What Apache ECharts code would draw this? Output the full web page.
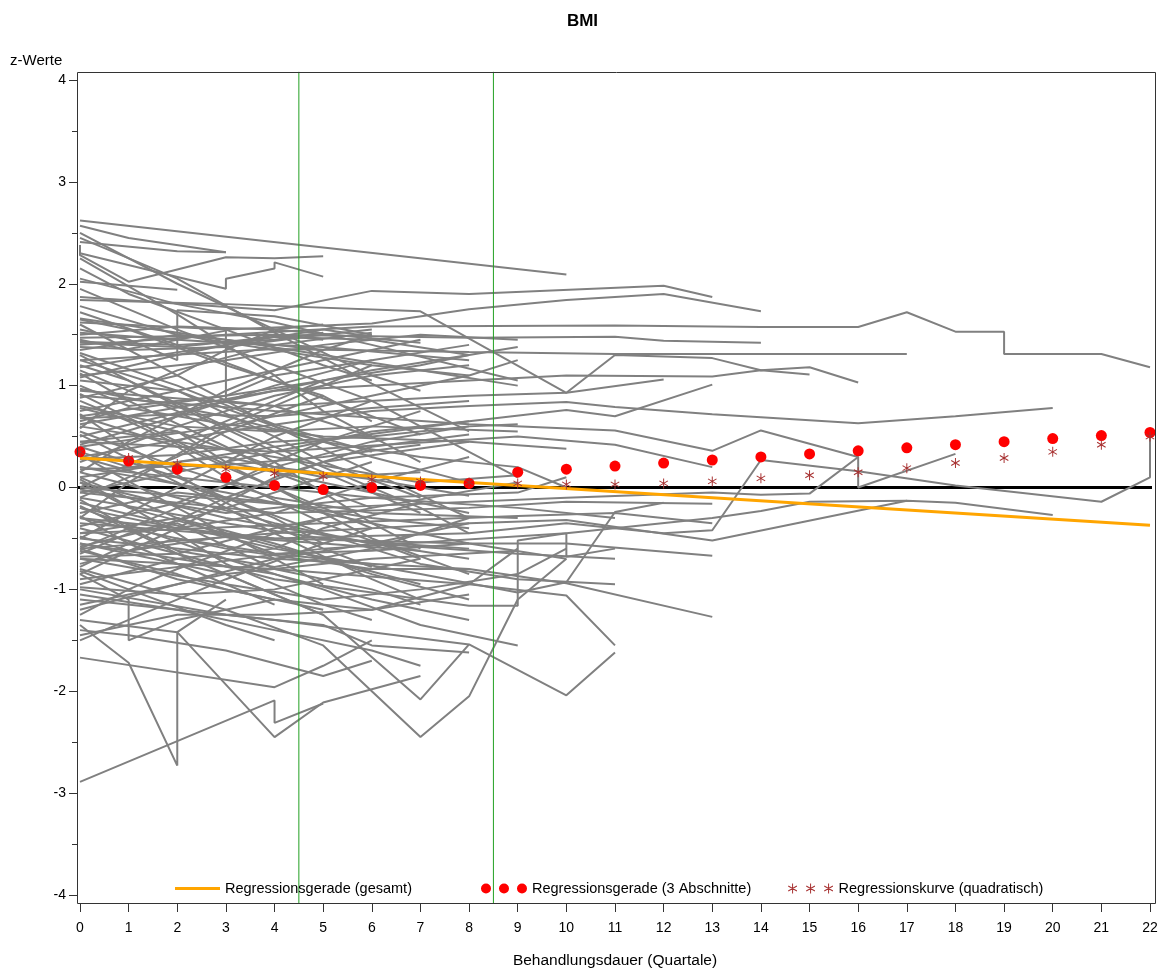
<!DOCTYPE html>
<html>
<head>
<meta charset="utf-8">
<title>BMI</title>
<script src="https://cdn.jsdelivr.net/npm/echarts@6/dist/echarts.min.js"></script>
<style>
  html, body { margin: 0; padding: 0; background: #ffffff; }
  #chart { width: 1165px; height: 974px; }
</style>
</head>
<body>
<div id="chart"></div>
<script>
// ---- data -------------------------------------------------------------
// treatment duration in quarters
const quarters = [0,1,2,3,4,5,6,7,8,9,10,11,12,13,14,15,16,17,18,19,20,21,22];
const yTickValues = [-4,-3,-2,-1,0,1,2,3,4];

// overall regression line (start / end)
const regOverall = [[0, 0.29], [22, -0.37]];
// piecewise regression, 3 sections (one value per quarter)
const reg3Sections = [0.35,0.26,0.18,0.10,0.02,-0.02,0.00,0.02,0.04,0.15,0.18,0.21,0.24,0.27,0.30,0.33,0.36,0.39,0.42,0.45,0.48,0.51,0.54];
// quadratic regression curve (one value per quarter)
const regQuadratic = [0.35,0.29,0.23,0.18,0.14,0.11,0.08,0.06,0.05,0.04,0.03,0.03,0.04,0.06,0.09,0.12,0.15,0.19,0.24,0.29,0.35,0.42,0.50];
// section boundaries
const sectionBreaks = [4.5, 8.5];

// individual patient courses [quarter, z-score]
const longPaths = [
  [[0,2.62],[10,2.09]],
  [[0,1.87],[4,1.74],[6,1.93],[8,1.90],[12,1.98],[13,1.87]],
  [[0,1.62],[3,1.55],[6,1.61],[8,1.75],[10,1.84],[12,1.90],[14,1.73]],
  [[0,1.40],[3,1.50],[6,1.58],[11,1.59],[14,1.575],[16,1.575],[17,1.72],[18,1.53],[19,1.53],[19,1.31],[21,1.31],[22,1.18]],
  [[0,1.47],[4,1.50],[8,1.47],[11,1.48],[12,1.44],[14,1.42]],
  [[0,1.25],[4,1.36],[8,1.33],[11,1.31],[17,1.31]],
  [[0,1.84],[3,1.80],[7,1.73],[10,0.93],[11,1.30],[13,1.27],[14,1.15],[15,1.18],[16,1.03]],
  [[0,0.95],[4,0.80],[8,0.90],[10,0.93],[12,1.06]],
  [[0,0.62],[4,0.95],[8,1.05],[10,1.10],[13,1.09],[14,1.15],[15,1.11]],
  [[0,0.30],[3,0.55],[6,0.75],[8,0.80],[10,0.84],[11,0.79],[13,0.72],[16,0.63],[18,0.70],[20,0.78]],
  [[0,0.10],[4,0.40],[8,0.65],[10,0.76],[11,0.70],[13,1.01]],
  [[0,0.90],[4,0.75],[8,0.62],[11,0.56],[13,0.36],[14,0.56],[16,0.30],[16,0.00],[18,0.33]],
  [[0,-0.30],[4,-0.50],[8,-0.45],[10,-0.35],[12,-0.45],[13,-0.42],[14,0.27],[16,0.16],[18,0.02],[21,-0.14],[22,0.10],[22,0.54]],
  [[0,0.00],[5,-0.20],[10,-0.10],[13,-0.05],[14,-0.07],[15,-0.06],[16,0.30]],
  [[0,-0.35],[4,-0.50],[8,-0.55],[10,-0.55],[13,-0.67]],
  [[0,-0.50],[4,-0.70],[8,-0.80],[10,-0.94],[13,-1.27]],
  [[0,-0.60],[4,-0.45],[8,-0.35],[10,-0.32],[13,-0.52],[17,-0.13],[18,-0.15],[20,-0.27]],
  [[0,-0.90],[5,-0.60],[10,-0.45],[13,-0.30],[14,-0.23],[15,-0.14],[17,-0.13]],
  [[0,-0.70],[4,-0.80],[8,-0.95],[10,-1.06],[11,-1.55]],
  [[0,-1.10],[4,-1.30],[8,-1.54],[10,-2.04],[11,-1.62]],
  [[0,-0.15],[4,-0.60],[7,-0.85],[9,-1.03],[10,-0.93],[11,-0.24],[12,-0.15]],
  [[0,0.45],[4,0.35],[9,0.50],[11,0.42],[13,0.20]],
  [[0,-0.05],[4,-0.25],[8,-0.20],[10,-0.14],[13,-0.16]],
  [[0,-0.45],[5,-0.35],[9,-0.28],[11,-0.25],[13,-0.35]],
  [[0,0.20],[3,0.05],[6,-0.10],[9,-0.05],[10,0.10]],
  [[0,0.30],[3,-0.10],[5,-0.45],[7,-0.75],[9,-0.90],[11,-0.95]],
  [[0,0.05],[3,-0.30],[6,-0.55],[9,-0.65],[11,-0.70]]
];

const upperPaths = [
  [[0,2.57],[1,2.45],[3,2.31]],
  [[0,2.45],[2,2.05],[4,1.52],[6,1.02],[8,0.55]],
  [[0,2.38],[0,2.28],[1,2.02],[3,2.26],[4,2.25],[5,2.27]],
  [[0,2.41],[2,2.32],[3,2.31]],
  [[0,2.30],[3,1.95],[3,2.05],[4,2.15],[4,2.21],[5,2.07]],
  [[0,2.02],[2,1.94]],
  [[0,2.05],[2,1.80],[4,1.62],[6,1.40],[9,1.05]],
  [[0,1.72],[2,1.40],[4,1.05],[6,0.70],[7,0.52]],
  [[0,1.55],[1,1.45],[2,1.25],[2,1.74],[4,1.68],[6,1.50]],
  [[0,1.42],[2,1.38],[4,1.48],[6,1.45],[8,1.30]],
  [[0,1.38],[1,1.36],[3,1.54],[3,0.85],[4,0.80],[6,0.50]],
  [[0,1.95],[2,1.55],[4,1.20],[6,0.85],[8,0.35],[9,0.10]],
  [[0,2.25],[2,1.70],[4,1.10],[5,0.75],[7,0.25]],
  [[0,1.32],[2,1.00],[4,0.62],[6,0.35]],
  [[0,1.18],[3,1.40],[5,1.55],[6,1.48]],
  [[0,1.08],[2,1.30],[4,1.50],[5,1.45]],
  [[0,1.43],[2,1.40],[4,1.45],[5,1.52]],
  [[0,1.45],[1,1.35],[3,1.38],[5,1.50],[6,1.55]],
  [[0,1.50],[2,1.58],[4,1.55],[7,1.42]],
  [[0,1.65],[1,1.55],[3,1.20],[5,0.90],[6,0.65]],
  [[0,1.52],[2,1.45],[3,1.42],[5,1.38],[8,1.25]],
  [[0,1.35],[2,1.50],[4,1.40],[5,1.35]],
  [[0,2.15],[1,1.90],[3,1.55],[5,1.20],[6,1.05]],
  [[0,1.78],[2,1.50],[4,1.35],[6,1.20],[8,1.10]],
  [[0,2.50],[2,2.00],[4,1.55],[6,1.10],[7,0.95]],
  [[0,1.60],[2,1.10],[4,0.60],[6,0.15],[8,-0.30]],
  [[0,1.10],[3,1.25],[5,1.40],[7,1.50],[9,1.45]],
  [[0,1.66],[3,1.45],[5,1.30],[7,1.15],[9,1.00]]
];

const middlePaths = [
  [[0,1.05],[2,0.95],[4,0.60],[6,0.30],[8,0.05]],
  [[0,0.85],[1,0.65],[3,0.20],[5,-0.20],[6,-0.40]],
  [[0,0.75],[2,0.95],[4,1.15],[6,1.35],[7,1.45]],
  [[0,0.70],[2,0.40],[3,0.10],[5,-0.35],[7,-0.70]],
  [[0,0.65],[1,0.78],[3,0.62],[5,0.50],[8,0.45],[10,0.38]],
  [[0,0.55],[2,0.20],[4,-0.10],[6,-0.25],[9,-0.30]],
  [[0,0.50],[3,0.85],[6,1.15],[8,1.30]],
  [[0,0.45],[2,0.55],[4,0.20],[6,0.08],[8,-0.08]],
  [[0,0.40],[2,0.10],[4,-0.30],[5,-0.55]],
  [[0,0.97],[3,0.70],[5,0.45],[7,0.30],[9,0.20],[10,0.00]],
  [[0,0.80],[2,0.60],[4,0.55],[6,0.60],[9,0.55]],
  [[0,0.25],[2,0.60],[4,0.90],[6,1.10],[8,1.20]],
  [[0,0.35],[1,0.20],[3,0.30],[5,0.10],[7,0.15]],
  [[0,1.12],[1,0.85],[3,0.40],[4,0.15],[6,-0.20]],
  [[0,0.60],[4,0.30],[7,0.05],[9,0.12]],
  [[0,0.00],[2,0.45],[4,0.85],[5,1.05]],
  [[0,-0.10],[2,0.30],[3,0.55],[5,0.90]],
  [[0,0.78],[2,0.55],[3,0.25],[5,0.05],[8,-0.25]],
  [[0,-0.50],[2,0.00],[4,0.50],[6,0.85]],
  [[0,-0.85],[2,-0.40],[4,0.10],[6,0.40],[8,0.52]],
  [[0,0.15],[2,-0.10],[4,-0.35],[6,-0.55],[8,-0.70]],
  [[0,0.05],[1,-0.20],[3,-0.45],[5,-0.70],[7,-0.95]],
  [[0,-0.05],[2,0.15],[4,0.35],[6,0.55],[8,0.65]],
  [[0,-0.10],[3,-0.35],[5,-0.50],[8,-0.60]],
  [[0,-0.20],[2,-0.40],[4,-0.25],[6,0.05],[8,0.30]],
  [[0,-0.25],[2,-0.05],[4,-0.15],[6,-0.30],[8,-0.40]],
  [[0,-0.40],[4,-0.90],[8,-1.16],[9,-1.16],[9,-0.52],[10,-0.45],[10,-0.68],[11,-0.60]],
  [[0,-0.45],[2,-0.30],[4,-0.55],[6,-0.85],[8,-1.10]],
  [[0,-0.55],[2,-0.70],[4,-0.60],[5,-0.40],[7,-0.15]],
  [[0,-0.62],[2,-0.85],[3,-1.00],[5,-1.20]],
  [[0,-0.65],[1,-0.45],[3,-0.20],[5,0.10],[6,0.25]],
  [[0,-0.75],[2,-0.50],[4,-0.65],[6,-0.62],[8,-0.55]],
  [[0,0.10],[2,-0.30],[4,-0.65],[6,-0.75]],
  [[0,-0.02],[3,-0.25],[6,-0.10],[9,-0.20],[11,-0.30]],
  [[0,0.20],[3,-0.05],[6,-0.35],[8,-0.55],[10,-0.70]],
  [[0,1.00],[1,0.80],[3,0.90],[4,1.10],[6,1.25]],
  [[0,0.88],[2,1.10],[3,1.35],[4,1.55],[5,1.60]],
  [[0,0.58],[1,0.95],[2,1.15],[4,1.40],[6,1.52]],
  [[0,0.42],[2,0.70],[4,1.00],[6,1.25],[8,1.40]],
  [[0,0.15],[1,0.45],[3,0.95],[5,1.35],[6,1.50]],
  [[0,-0.30],[1,0.05],[3,0.60],[5,1.00],[6,1.20]],
  [[0,-0.60],[2,-0.20],[4,0.25],[5,0.45],[7,0.75]],
  [[0,-0.78],[1,-0.55],[3,-0.10],[5,0.25],[8,0.45]],
  [[0,-0.68],[2,-0.65],[4,-0.40],[6,-0.20],[9,0.05]],
  [[0,1.30],[2,0.80],[4,0.35],[6,-0.05],[7,-0.25]],
  [[0,1.20],[1,1.05],[3,0.60],[5,0.20],[7,-0.20],[8,-0.45]],
  [[0,1.15],[2,0.75],[4,0.25],[6,-0.35],[7,-0.60]],
  [[0,0.92],[2,0.45],[4,0.00],[6,-0.50],[8,-0.85]],
  [[0,0.72],[1,0.40],[3,-0.15],[5,-0.60],[6,-0.78]],
  [[0,0.52],[2,0.05],[4,-0.45],[6,-0.90],[7,-1.10]],
  [[0,0.32],[2,-0.20],[4,-0.70],[5,-0.95]],
  [[0,0.08],[2,-0.45],[3,-0.75],[5,-1.15],[6,-1.30]],
  [[0,-0.18],[2,-0.65],[4,-1.05],[5,-1.25]],
  [[0,-0.28],[1,-0.55],[3,-0.95],[4,-1.15]],
  [[0,-0.38],[2,-0.15],[4,0.20],[6,0.45],[8,0.60],[9,0.62]],
  [[0,-0.48],[1,-0.62],[3,-0.48],[5,-0.55],[7,-0.62]],
  [[0,-0.58],[2,-0.35],[4,-0.80],[6,-1.00],[7,-1.15]],
  [[0,0.28],[2,0.32],[4,0.45],[6,0.50],[8,0.60]],
  [[0,0.18],[3,0.22],[5,0.30],[7,0.42]],
  [[0,0.68],[2,0.72],[4,0.70],[6,0.78],[8,0.85]],
  [[0,1.25],[2,0.95],[4,0.50],[5,0.25],[7,-0.10]],
  [[0,-0.12],[1,-0.40],[2,-0.62],[4,-0.78],[6,-0.60],[8,-0.30]],
  [[0,0.70],[3,0.90],[5,1.05],[7,1.20],[8,1.30],[9,1.38]],
  [[0,0.40],[3,0.60],[6,0.90],[8,1.10],[9,1.25]],
  [[0,-0.30],[3,-0.60],[6,-0.80],[8,-0.80]]
];

const lowerPaths = [
  [[0,-2.89],[4,-2.09],[4,-2.31],[5,-2.12]],
  [[0,-1.67],[4,-1.96],[5,-1.75],[6,-1.50]],
  [[0,-1.35],[1,-1.72],[2,-2.73],[2,-1.42],[3,-1.10]],
  [[0,-1.30],[2,-1.42],[4,-2.45],[5,-2.11],[7,-1.85]],
  [[0,-0.80],[3,-1.20],[5,-1.55],[7,-2.45],[8,-2.05],[9,-1.10],[10,-0.70]],
  [[0,-1.50],[1,-1.30],[3,-0.90],[5,-0.55],[6,-0.40]],
  [[0,-1.40],[1,-1.45],[3,-1.60],[5,-1.85],[6,-1.70]],
  [[0,-1.25],[1,-1.00],[2,-0.80],[4,-0.45],[5,-0.30]],
  [[0,-0.85],[1,-1.10],[1,-1.50],[2,-1.30],[4,-1.10]],
  [[0,-1.05],[2,-1.20],[4,-1.40],[6,-1.60],[7,-1.75]],
  [[0,-0.95],[2,-0.70],[4,-0.85],[6,-1.10],[8,-1.30]],
  [[0,-1.15],[3,-0.85],[6,-0.70],[9,-0.62]],
  [[0,-0.82],[1,-1.00],[3,-1.35],[4,-1.50]],
  [[0,-1.20],[2,-0.95],[4,-0.70],[6,-0.55],[8,-0.35]],
  [[0,-0.98],[2,-1.05],[4,-1.00],[6,-0.80],[7,-0.70]],
  [[0,-1.45],[2,-1.25],[4,-1.25],[6,-1.20],[8,-1.05]],
  [[0,-0.20],[3,-0.70],[5,-1.00],[7,-1.35],[9,-1.55]],
  [[0,-0.70],[3,-0.95],[5,-1.10],[7,-1.00],[9,-0.85],[10,-0.60]],
  [[0,-1.00],[3,-1.25],[5,-1.35],[6,-1.55],[8,-1.62]],
  [[0,-0.55],[3,-0.85],[5,-1.25],[7,-2.08],[8,-1.54]],
  [[0,-0.60],[2,-0.90],[4,-1.10],[6,-1.20],[8,-0.95],[9,-0.60]]
];

// ---- styling ------------------------------------------------------------
const FONT = '"Liberation Sans", Arial, sans-serif';
const GRAY = '#808080';
const AXIS = '#333333';
const ASTERISK_COLOR = '#A83232';

// six-armed asterisk made of three thin bars
const asteriskPath = 'path://M-0.5,-5L0.5,-5L0.5,5L-0.5,5Z' +
  'M4.08,2.93L-4.58,-2.07L-4.08,-2.93L4.58,2.07Z' +
  'M4.08,-2.93L4.58,-2.07L-4.08,2.93L-4.58,2.07Z';

function dotAt(cx) {
  return 'M' + (cx - 5) + ',5a5,5 0 1,0 10,0a5,5 0 1,0 -10,0Z';
}
function starAt(cx) {
  return 'M' + (cx - 0.5) + ',0L' + (cx + 0.5) + ',0L' + (cx + 0.5) + ',10L' + (cx - 0.5) + ',10Z' +
    'M' + (cx + 4.08) + ',7.93L' + (cx - 4.58) + ',2.93L' + (cx - 4.08) + ',2.07L' + (cx + 4.58) + ',7.07Z' +
    'M' + (cx + 4.08) + ',2.07L' + (cx + 4.58) + ',2.93L' + (cx - 4.08) + ',7.93L' + (cx - 4.58) + ',7.07Z';
}
const threeDotsIcon = 'path://' + dotAt(5) + dotAt(23) + dotAt(41);
const threeStarsIcon = 'path://' + starAt(5) + starAt(23) + starAt(41);

const NAME_OVERALL = 'Regressionsgerade (gesamt)';
const NAME_SECTIONS = 'Regressionsgerade (3 Abschnitte)';
const NAME_QUAD = 'Regressionskurve (quadratisch)';

// axis padding (the frame sits slightly outside the data range)
const xFrame = [-0.06, 22.12];
const yFrame = [-4.08, 4.08];

const chart = echarts.init(document.getElementById('chart'), null, { renderer: 'canvas' });

const allPaths = [].concat(longPaths, upperPaths, middlePaths, lowerPaths);

const series = [];

// zero reference line
series.push({
  type: 'line', name: 'zero', silent: true, clip: false, symbol: 'none', z: 1,
  data: [[xFrame[0], 0], [xFrame[1], 0]],
  lineStyle: { color: '#000000', width: 3 }
});

// patient courses
allPaths.forEach(function (p, i) {
  series.push({
    type: 'line', name: 'verlauf' + i, silent: true, symbol: 'none', z: 2,
    data: p,
    lineStyle: { color: GRAY, width: 2 }
  });
});

// section boundaries
sectionBreaks.forEach(function (b, i) {
  series.push({
    type: 'line', name: 'grenze' + i, silent: true, clip: false, symbol: 'none', z: 3,
    data: [[b, yFrame[0]], [b, yFrame[1]]],
    lineStyle: { color: '#22a022', width: 1 }
  });
});

series.push({
  type: 'line', name: NAME_OVERALL, silent: true, symbol: 'none', z: 4,
  color: '#FFA500',
  data: regOverall,
  lineStyle: { color: '#FFA500', width: 3 }
});

series.push({
  type: 'scatter', name: NAME_SECTIONS, silent: true, clip: false, z: 5,
  color: '#FF0000',
  symbol: 'circle', symbolSize: 11,
  itemStyle: { opacity: 1 },
  data: quarters.map(function (q, i) { return [q, reg3Sections[i]]; })
});

series.push({
  type: 'scatter', name: NAME_QUAD, silent: true, clip: false, z: 6,
  color: ASTERISK_COLOR,
  symbol: asteriskPath, symbolSize: [9, 10],
  itemStyle: { opacity: 1 },
  data: quarters.map(function (q, i) { return [q, regQuadratic[i]]; })
});

const legendText = { fontFamily: FONT, fontSize: 14.5, color: '#000000' };
function legendAt(left, name, icon, w, h) {
  return {
    left: left, top: 876, orient: 'horizontal', selectedMode: false,
    itemWidth: w, itemHeight: h, itemGap: 0,
    itemStyle: { borderWidth: 0 },
    textStyle: legendText,
    data: [{ name: name, icon: icon }]
  };
}

const option = {
  animation: false,
  backgroundColor: '#ffffff',
  textStyle: { fontFamily: FONT },
  title: {
    text: 'BMI', left: 'center', top: 8,
    textStyle: { fontFamily: FONT, fontSize: 17, fontWeight: 'bold', color: '#000000' }
  },
  grid: { left: 80, right: 15, top: 80, bottom: 79, containLabel: false },
  legend: [
    legendAt(170, NAME_OVERALL, 'rect', 45, 3),
    legendAt(476, NAME_SECTIONS, threeDotsIcon, 46, 10),
    legendAt(783, NAME_QUAD, threeStarsIcon, 46, 10)
  ],
  xAxis: {
    type: 'value', min: 0, max: 22, interval: 1, offset: 8,
    name: 'Behandlungsdauer (Quartale)', nameLocation: 'middle', nameGap: 50,
    nameTextStyle: { fontFamily: FONT, fontSize: 15.5, color: '#000000' },
    axisLine: { show: false, onZero: false },
    axisTick: { show: true, length: 9, lineStyle: { color: AXIS } },
    axisLabel: { fontFamily: FONT, fontSize: 14, color: '#000000', margin: 18 },
    splitLine: { show: false }
  },
  yAxis: {
    type: 'value', min: yTickValues[0], max: yTickValues[yTickValues.length - 1], interval: 1, offset: 3,
    axisLine: { show: false, onZero: false },
    axisTick: { show: true, length: 8, lineStyle: { color: AXIS } },
    minorTick: { show: true, splitNumber: 2, length: 5, lineStyle: { color: AXIS } },
    axisLabel: { fontFamily: FONT, fontSize: 14, color: '#000000', margin: 11 },
    splitLine: { show: false },
    minorSplitLine: { show: false }
  },
  graphic: [
    {
      type: 'rect', silent: true, z: 100,
      shape: { x: 77.5, y: 72.5, width: 1078, height: 831 },
      style: { fill: 'none', stroke: AXIS, lineWidth: 1 }
    },
    {
      type: 'text', left: 10, top: 53, silent: true,
      style: { text: 'z-Werte', font: '15px ' + FONT, fill: '#000000' }
    }
  ],
  series: series
};

chart.setOption(option);
</script>
</body>
</html>
